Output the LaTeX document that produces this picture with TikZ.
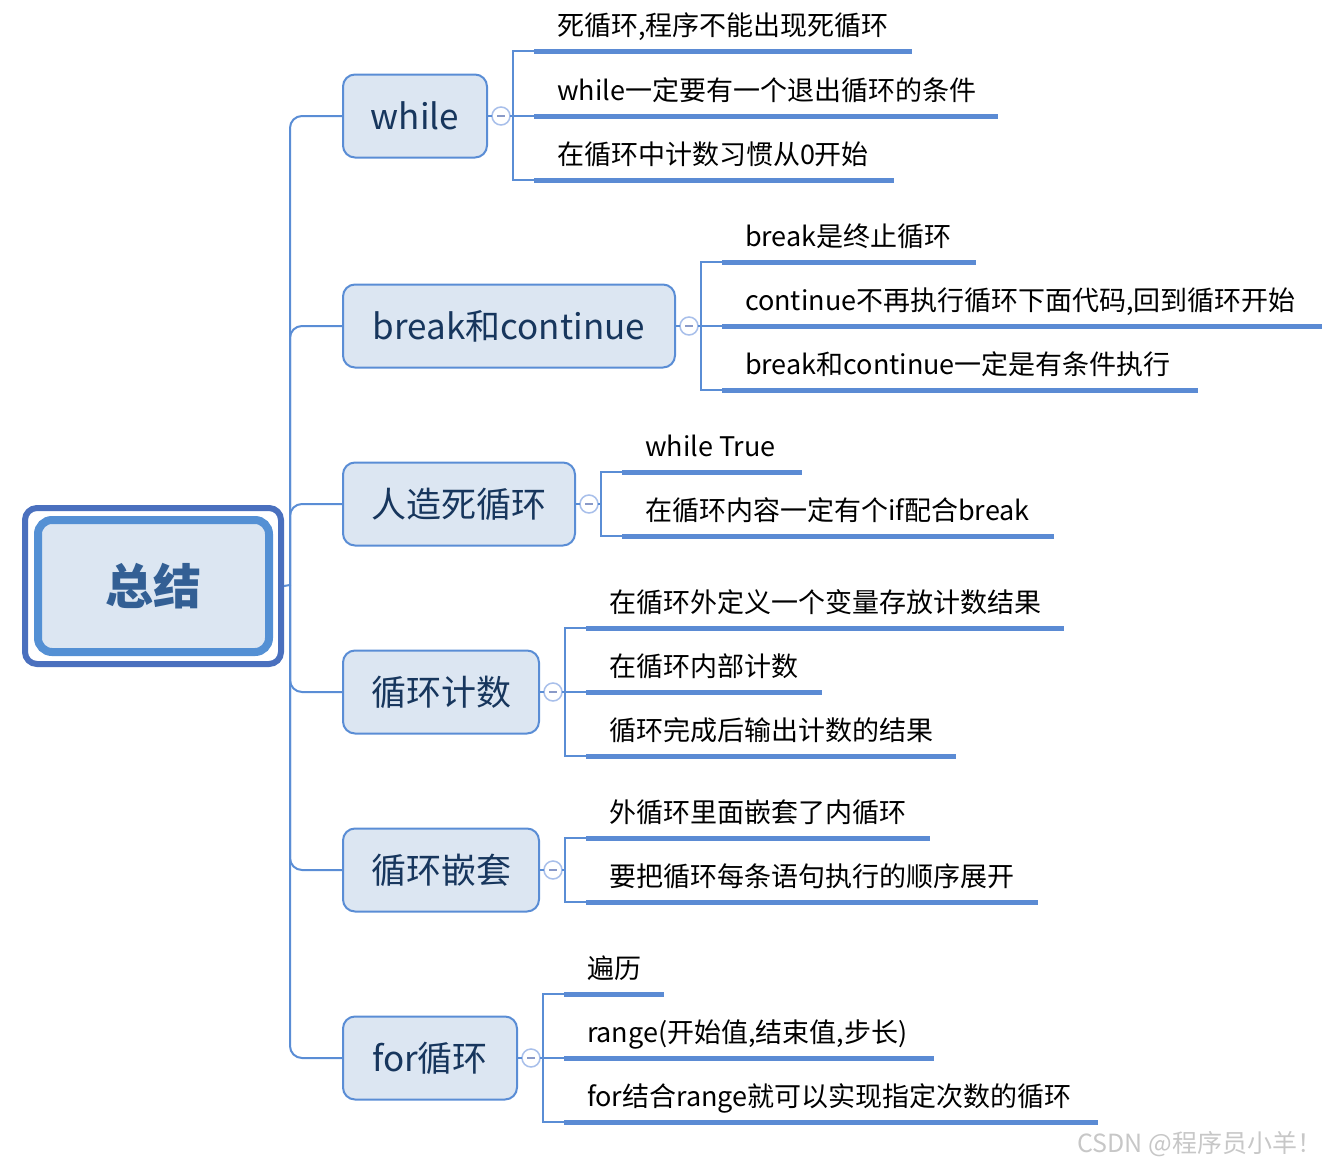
\documentclass[tikz,border=0pt]{standalone}
\usepackage{fontspec}
\setmainfont{Noto Sans CJK SC}
\definecolor{bline}{HTML}{5A8DD5}
\definecolor{ulc}{HTML}{5B8BD4}
\definecolor{nodefill}{HTML}{DCE6F2}
\definecolor{navy}{HTML}{17365D}
\definecolor{rootin}{HTML}{5490D4}
\definecolor{rootout}{HTML}{4A70BE}
\definecolor{roottext}{HTML}{335F94}
\definecolor{togc}{HTML}{A8BFEA}
\definecolor{minusc}{HTML}{8A9AC8}
\newcommand\leafitem[5]{%
  \coordinate (#1a) at (#2,#4);
  \coordinate (#1b) at (#3,#4);
  \draw[uline] (#1a) -- (#1b);
  \node[leaftext] (#1t) at ([shift={(23,-16)}]#1a) {#5};
}
\begin{document}
\begin{tikzpicture}[x=1pt,y=-1pt,
  every node/.style={inner sep=0pt, outer sep=0pt},
  branch/.style={draw=bline, line width=2pt, fill=nodefill, rounded corners=12pt,
    minimum height=83pt, text=navy, font=\fontsize{35}{40}\selectfont},
  conn/.style={draw=bline, line width=2pt},
  uline/.style={draw=ulc, line width=5pt},
  leaftext/.style={anchor=base west, text=black, font=\fontsize{27}{31}\selectfont},
  tog/.style={circle, draw=togc, line width=1.5pt, fill=white, minimum size=18pt},
  minusmark/.style={draw=minusc, line width=2pt},
  rootbox/.style={draw=rootin, line width=8pt, fill=nodefill, rounded corners=14pt,
    minimum width=231pt, minimum height=132pt, text=roottext,
    font=\fontsize{48}{54}\selectfont\bfseries},
  rootframe/.style={draw=rootout, line width=6pt, rounded corners=12pt},
]
\useasboundingbox (0,0) rectangle (1331,1167);

% root
\coordinate (hub) at (290,585);
\node[rootbox] (root) at (153.5,586) {总结};
\draw[rootframe] ([shift={(-13,-12)}]root.north west) rectangle ([shift={(12,12)}]root.south east);

% branches
\node[branch, minimum width=144pt] (b1) at (415,116) {while};
\node[branch, minimum width=332pt] (b2) at (509,326) {break和continue};
\node[branch, minimum width=232pt] (b3) at (459,504) {人造死循环};
\node[branch, minimum width=196pt] (b4) at (441,692) {循环计数};
\node[branch, minimum width=196pt] (b5) at (441,870) {循环嵌套};
\node[branch, minimum width=174pt] (b6) at (430,1058) {for循环};

\draw[conn] ([xshift=15]root.east) -- (hub);
\foreach \n in {b1,b2,b3,b4,b5,b6}
  \draw[conn, rounded corners=12pt] (hub) |- (\n.west);

% toggles and bracket hubs
\foreach \n/\k in {b1/k1,b2/k2,b3/k3,b4/k4,b5/k5,b6/k6}{
  \node[tog] (t\n) at ([xshift=14]\n.east) {};
  \draw[minusmark] ([xshift=-4]t\n.center) -- ([xshift=4]t\n.center);
  \coordinate (\k) at ([xshift=26]\n.east);
  \draw[conn] (\n.east) -- (t\n.west);
  \draw[conn] (t\n.east) -- (\k);
}

% while leaves
\leafitem{w1}{534}{912}{51}{死循环,程序不能出现死循环}
\leafitem{w2}{534}{998}{116}{while一定要有一个退出循环的条件}
\leafitem{w3}{534}{894}{180}{在循环中计数习惯从0开始}
\draw[conn] (w1a) -| (k1) |- (w3a);
\draw[conn] (k1) -- (w2a);

% break leaves
\leafitem{r1}{722}{976}{262}{break是终止循环}
\leafitem{r2}{722}{1322}{326}{continue不再执行循环下面代码,回到循环开始}
\leafitem{r3}{722}{1198}{390}{break和continue一定是有条件执行}
\draw[conn] (r1a) -| (k2) |- (r3a);
\draw[conn] (k2) -- (r2a);

% 人造死循环 leaves
\leafitem{p1}{622}{802}{472}{while True}
\leafitem{p2}{622}{1054}{536}{在循环内容一定有个if配合break}
\draw[conn] (p1a) -| (k3) |- (p2a);

% 循环计数 leaves
\leafitem{c1}{586}{1064}{628}{在循环外定义一个变量存放计数结果}
\leafitem{c2}{586}{822}{692}{在循环内部计数}
\leafitem{c3}{586}{956}{756}{循环完成后输出计数的结果}
\draw[conn] (c1a) -| (k4) |- (c3a);
\draw[conn] (k4) -- (c2a);

% 循环嵌套 leaves
\leafitem{n1}{586}{930}{838}{外循环里面嵌套了内循环}
\leafitem{n2}{586}{1038}{902}{要把循环每条语句执行的顺序展开}
\draw[conn] (n1a) -| (k5) |- (n2a);

% for leaves
\leafitem{f1}{564}{664}{994}{遍历}
\leafitem{f2}{564}{934}{1058}{range(开始值,结束值,步长)}
\leafitem{f3}{564}{1098}{1122}{for结合range就可以实现指定次数的循环}
\draw[conn] (f1a) -| (k6) |- (f3a);
\draw[conn] (k6) -- (f2a);

% watermark
\node[anchor=east, text=black!22, font=\fontsize{25}{29}\selectfont] (wm) at (1322,1144) {CSDN @程序员小羊！};
\end{tikzpicture}
\end{document}
